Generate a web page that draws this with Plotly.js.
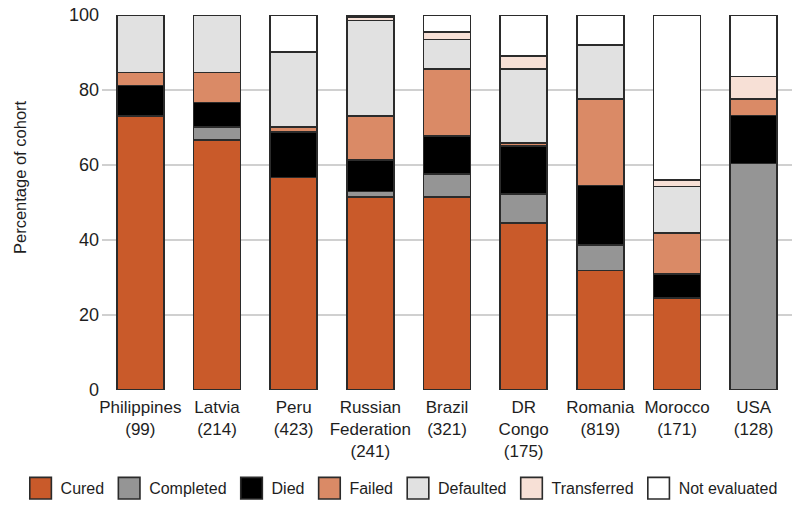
<!DOCTYPE html>
<html>
<head>
<meta charset="utf-8">
<script src="https://cdn.plot.ly/plotly-3.0.1.min.js"></script>
<style>html,body{margin:0;padding:0;background:#fff;} #chart{width:800px;height:513px;}</style>
</head>
<body>
<div id="chart"></div>
<script>
const categories = ["Philippines","Latvia","Peru","Russian Federation","Brazil","DR Congo","Romania","Morocco","USA"];
const tickLabels = ["Philippines<br>(99)","Latvia<br>(214)","Peru<br>(423)","Russian<br>Federation<br>(241)","Brazil<br>(321)","DR<br>Congo<br>(175)","Romania<br>(819)","Morocco<br>(171)","USA<br>(128)"];

const cured        = [73.0, 66.7, 56.7, 51.4, 51.4, 44.5, 31.9, 24.6, 0];
const completed    = [0,    3.4,  0,    1.5,  6.2,  7.8,  6.8,  0,    60.4];
const died         = [8.2,  6.6,  12.1, 8.5,  10.1, 12.8, 15.8, 6.4,  12.8];
const failed       = [3.5,  8.0,  1.4,  11.6, 17.9, 0.7,  23.1, 10.8, 4.4];
const defaulted    = [15.3, 15.3, 19.9, 25.5, 7.9,  19.8, 14.4, 12.5, 0];
const transferred  = [0,    0,    0,    1.0,  1.9,  3.5,  0,    1.7,  6.0];
const notEvaluated = [0,    0,    9.9,  0.5,  4.6,  10.9, 8.0,  44.0, 16.4];

const seriesNames = ["Cured","Completed","Died","Failed","Defaulted","Transferred","Not evaluated"];
const seriesValues = [cured, completed, died, failed, defaulted, transferred, notEvaluated];
const seriesColors = ["#c95a2a","#959595","#000000","#da8a66","#e1e1e1","#f7e0d6","#ffffff"];

const FONT = "Liberation Sans, Arial, sans-serif";

const traces = seriesNames.map((name, i) => ({
  type: "bar",
  name: name,
  x: categories,
  y: seriesValues[i],
  marker: { color: seriesColors[i], line: { color: "#2b2b2b", width: 1.6 } },
  hoverinfo: "x+y+name"
}));

const layout = {
  width: 800, height: 513,
  margin: { l: 102, r: 8, t: 15, b: 121 },
  barmode: "stack",
  bargap: 0.39,
  paper_bgcolor: "#ffffff",
  plot_bgcolor: "#ffffff",
  font: { family: FONT, size: 17, color: "#1e1e1e" },
  xaxis: {
    type: "category",
    tickmode: "array",
    tickvals: categories,
    ticktext: tickLabels,
    showgrid: false, showline: false, zeroline: false,
    ticks: "",
    ticklabelstandoff: 5,
    tickfont: { size: 17 },
    range: [-0.5, 8.5]
  },
  yaxis: {
    range: [0, 100],
    dtick: 20,
    showgrid: true, gridcolor: "#d0d0d0", gridwidth: 1.5,
    zeroline: false, showline: false,
    ticks: "",
    ticklabelstandoff: 2,
    tickfont: { size: 18 }
  },
  annotations: [{
    text: "Percentage of cohort",
    xref: "paper", yref: "paper",
    x: -0.119, y: 0.5676,
    xanchor: "center", yanchor: "middle",
    textangle: -90,
    showarrow: false,
    font: { size: 16.5 }
  }],
  showlegend: true,
  legend: {
    orientation: "h",
    xref: "paper", yref: "paper",
    x: -0.118, xanchor: "left",
    y: -0.262, yanchor: "middle",
    font: { size: 16 },
    traceorder: "normal",
    itemclick: false
  }
};

Plotly.newPlot("chart", traces, layout, { displayModeBar: false, staticPlot: true }).then(gd => {
  gd.querySelectorAll(".legend .legendpoints path").forEach(p => {
    const t = p.getAttribute("transform") || "";
    p.setAttribute("transform", t + " scale(1.8)");
    p.style.strokeWidth = "0.9px";
  });
});
</script>
</body>
</html>
